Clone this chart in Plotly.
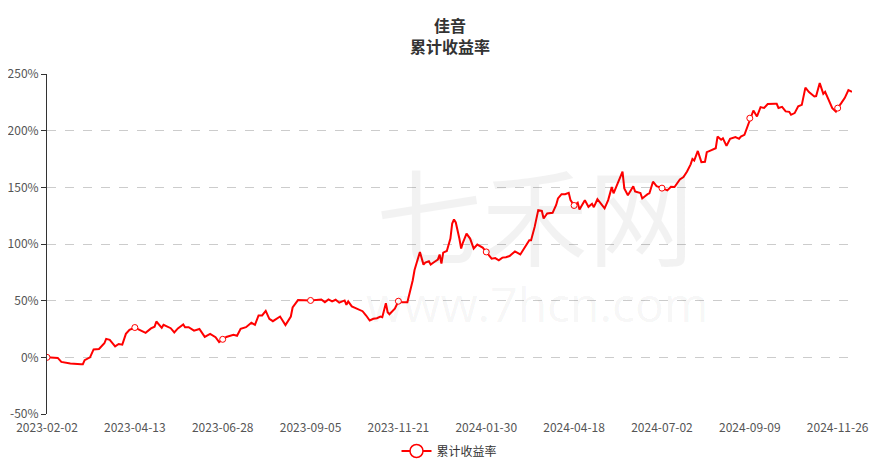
import pandas as pd
import plotly.graph_objects as go

# ---- data -------------------------------------------------------------
title_name = "佳音"
series_name = "累计收益率"

start_date = "2023-02-02"
end_date = "2024-12-06"
exchange_holidays = [
    "2023-04-05", "2023-05-01", "2023-05-02", "2023-05-03", "2023-06-22", "2023-06-23",
    "2023-09-29", "2023-10-02", "2023-10-03", "2023-10-04", "2023-10-05", "2023-10-06",
    "2024-01-01", "2024-02-09", "2024-02-12", "2024-02-13", "2024-02-14", "2024-02-15",
    "2024-02-16", "2024-04-04", "2024-04-05", "2024-05-01", "2024-05-02", "2024-05-03",
    "2024-06-10", "2024-09-16", "2024-09-17", "2024-10-01", "2024-10-02", "2024-10-03",
    "2024-10-04", "2024-10-07",
]

tick_dates = ["2023-02-02", "2023-04-13", "2023-06-28", "2023-09-05", "2023-11-21",
              "2024-01-30", "2024-04-18", "2024-07-02", "2024-09-09", "2024-11-26"]

y_ticks = [-50, 0, 50, 100, 150, 200, 250]
y_tick_labels = ["-50%", "0%", "50%", "100%", "150%", "200%", "250%"]

day_no = [0, 3, 6, 8, 13, 19, 20, 21, 24, 26, 29, 32, 33, 35, 38, 40, 42, 44, 46, 49,
          52, 55, 58, 60, 61, 64, 65, 69, 71, 73, 76, 77, 79, 82, 85, 88, 91, 94, 96, 98,
          100, 104, 106, 108, 111, 114, 116, 118, 120, 122, 124, 126, 130, 133, 136, 137, 140, 147, 150, 153,
          155, 157, 159, 161, 163, 166, 167, 168, 170, 173, 176, 178, 180, 182, 184, 186, 187, 189, 190, 191,
          193, 194, 196, 198, 201, 202, 204, 205, 208, 210, 211, 213, 214, 216, 218, 219, 220, 221, 223, 225,
          226, 227, 228, 230, 231, 232, 234, 236, 238, 240, 242, 243, 245, 248, 250, 252, 254, 256, 258, 261,
          264, 267, 269, 270, 272, 274, 276, 277, 279, 282, 284, 285, 287, 289, 291, 292, 294, 296, 297, 300,
          302, 304, 305, 307, 309, 311, 313, 315, 316, 319, 321, 322, 324, 327, 328, 331, 332, 335, 336, 338,
          340, 343, 346, 348, 350, 353, 355, 357, 359, 360, 361, 363, 365, 367, 368, 370, 373, 374, 376, 377,
          379, 381, 384, 386, 387, 389, 391, 392, 394, 396, 398, 400, 402, 406, 407, 408, 410, 412, 414, 415,
          417, 419, 421, 423, 425, 428, 429, 431, 433, 434, 436, 438, 440, 441, 443, 445, 447, 449]

cum_return = [0, -0.5, -0.5, -4, -5.5, -6, -6, -2.5, 0, 7, 7.4, 12.4, 16.3, 15.4, 9.7, 11.8, 11.2, 20.7, 24.3, 26.3,
              24.3, 21.6, 25.5, 27, 31.6, 26, 28.7, 25.7, 22, 25.5, 29, 26.6, 26.6, 23.6, 25, 18, 20.7, 17.7, 13.5, 15.9,
              18, 19.8, 19, 25.1, 26.6, 30.5, 28.7, 37, 37, 41, 34, 31.9, 36, 28.5, 36, 44, 50.5, 50.2, 50.5, 51.1,
              48.7, 51.1, 49.3, 50.8, 48.2, 50.2, 46.4, 49.3, 44.9, 42.8, 40.7, 36.9, 32.5, 34, 34.5, 36, 35.4, 47.8, 39.8, 38,
              41, 43, 49.5, 48.7, 48.7, 54.6, 68, 77, 93, 81.8, 83.6, 84.7, 81.8, 84.1, 86.2, 90.7, 82.7, 92.4, 93.8, 104.8,
              118.1, 121.6, 119, 104.8, 96, 101.3, 109.2, 104.8, 96, 99.5, 97.4, 96.8, 93, 87.1, 87.6, 85.6, 88, 88.3, 89.4, 93.5,
              90.8, 98, 103.3, 103.3, 115.1, 129.9, 129.2, 122.5, 127, 127.5, 134.5, 140.2, 144, 144, 145.2, 138.7, 134, 136.5, 130.5, 138.7,
              132.8, 135.5, 132.5, 139.5, 135.7, 131.4, 138.7, 150.2, 144.7, 156, 163.8, 149, 143, 151, 146.4, 145, 140.2, 144, 144.7, 155,
              151.1, 149.3, 147.3, 150.5, 150.3, 157, 159, 164, 170.3, 175, 173.6, 182.1, 172.3, 172.6, 181, 182.4, 184.5, 194.8, 192, 193.3,
              186.6, 192.8, 194.3, 192.8, 194.8, 196.3, 205, 211, 217.8, 212.5, 220.8, 220, 223.5, 223.7, 223.7, 220, 221, 217, 216.6, 214,
              215.5, 221.5, 222.8, 238, 234, 230.2, 230.5, 242, 232.5, 234.2, 226.8, 219.9, 216.9, 219.9, 224.3, 229, 235.8, 234.3]

# ---- derived ----------------------------------------------------------
trade_days = [d.strftime("%Y-%m-%d") for d in
              pd.bdate_range(start_date, end_date, freq="C", holidays=exchange_holidays)]
x_dates = [trade_days[i] for i in day_no]
lookup = dict(zip(x_dates, cum_return))
mark_x = [d for d in tick_dates if d in lookup]
mark_y = [lookup[d] for d in mark_x]

RED = "#ff0000"
FONT = "Noto Sans CJK SC, Microsoft YaHei, sans-serif"

# the page body has an 8px default margin, so the figure is sized to fit inside
FIG_W, FIG_H = 876, 457

fig = go.Figure()
fig.add_trace(go.Scatter(x=x_dates, y=cum_return, mode="lines",
                         line=dict(color=RED, width=2), showlegend=False,
                         hoverinfo="x+y"))
fig.add_trace(go.Scatter(x=mark_x, y=mark_y, mode="markers",
                         marker=dict(symbol="circle", size=6, color="white",
                                     line=dict(color=RED, width=1)),
                         showlegend=False, hoverinfo="skip"))
# legend entry
fig.add_trace(go.Scatter(x=[None], y=[None], mode="lines+markers", name=series_name,
                         line=dict(color=RED, width=2),
                         marker=dict(symbol="circle", size=13, color="white",
                                     line=dict(color=RED, width=1.5))))

n_last = len(trade_days) - 1
axis_common = dict(type="category", categoryorder="array", categoryarray=trade_days,
                   range=[0, n_last], tickmode="array", tickvals=tick_dates,
                   showgrid=False, zeroline=False, fixedrange=True, automargin=False)

fig.update_layout(
    width=FIG_W, height=FIG_H,
    margin=dict(l=39, r=32, t=66, b=51, autoexpand=False),
    paper_bgcolor="white", plot_bgcolor="white",
    font=dict(family=FONT, size=12, color="#666"),
    xaxis=dict(**axis_common, ticktext=tick_dates, showline=False, ticks="",
               ticklabelstandoff=5, tickfont=dict(size=12, color="#555")),
    xaxis2=dict(**axis_common, overlaying="x", anchor="free", position=1 / 6,
                showticklabels=False, showline=True, linecolor="#333", linewidth=1,
                ticks="outside", ticklen=5, tickcolor="#333"),
    yaxis=dict(range=[-50, 250], tickmode="array", tickvals=y_ticks, ticktext=y_tick_labels,
               showgrid=True, gridcolor="#cccccc", griddash="dash",
               gridwidth=1, zeroline=False, showline=True, linecolor="#333",
               linewidth=1, ticks="outside", ticklen=5, tickcolor="#333",
               tickfont=dict(size=12, color="#555"), domain=[0, 1],
               fixedrange=True, automargin=False),
    legend=dict(orientation="h", x=0.5, xanchor="center", yref="container",
                y=1 - 443 / FIG_H, yanchor="middle",
                font=dict(size=12, color="#333"), bgcolor="rgba(0,0,0,0)"),
    showlegend=True,
)

# two-line title
fig.add_annotation(text="<b>" + title_name + "<br>" + series_name + "</b>",
                   xref="paper", yref="paper",
                   x=0.5, y=(414 - 36) / 340, yanchor="middle", showarrow=False,
                   font=dict(family=FONT, size=16, color="#333"))

# faint site watermark
fig.add_annotation(text="七禾网", xref="paper", yref="paper",
                   x=(535 - 47) / 805, y=(414 - 212) / 340, yanchor="middle", showarrow=False,
                   font=dict(family=FONT, size=106, color="rgba(0,0,0,0.05)"))
fig.add_annotation(text="www.7hcn.com", xref="paper", yref="paper",
                   x=(537 - 47) / 805, y=(414 - 303) / 340, yanchor="middle", showarrow=False,
                   font=dict(family="Open Sans, sans-serif", size=48, color="rgba(0,0,0,0.05)"))

fig.write_html("out.html")
